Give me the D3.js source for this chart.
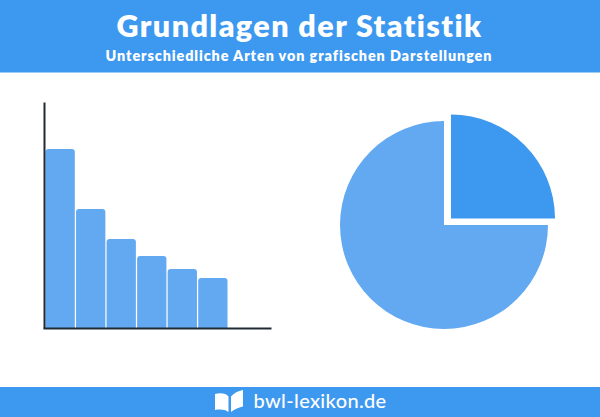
<!DOCTYPE html>
<html><head><meta charset="utf-8">
<script src="https://cdn.jsdelivr.net/npm/d3@7"></script>
<style>html,body{margin:0;padding:0;background:#fff}svg{display:block}</style>
</head><body><svg id="c" width="600" height="417"></svg>
<script>
const titleText = "Grundlagen der Statistik";
const subtitleText = "Unterschiedliche Arten von grafischen Darstellungen";
const footerText = "bwl-lexikon.de";
const categories = ["A","B","C","D","E","F"];
const barValues = [79.2,52.7,39.4,31.9,26.1,22.1];
const pieLabels = ["Anteil","Rest"];
const pieValues = [25,75];

const svg = d3.select("#c");
const blue="#3d98ef", light="#63a9f2", ink="#1f2a35";
svg.append("rect").attr("width",600).attr("height",72.5).attr("fill",blue);
svg.append("rect").attr("y",387).attr("width",600).attr("height",30).attr("fill",blue);
const text=(x,y,s,size,ls,w)=>svg.append("text").attr("x",x).attr("y",y).attr("text-anchor","middle")
  .attr("font-family","Lato, 'Open Sans', sans-serif").attr("font-weight",w).attr("font-size",size)
  .attr("letter-spacing",ls).attr("fill","#fff").text(s);
text(299.5,37,titleText,30.5,1.4,800);
text(299,61,subtitleText,14.4,0.9,800);
text(320,408,footerText,20,0.35,500);

// book icon
const book=svg.append("g").attr("fill","#fff");
book.append("path").attr("d","M215 394 C221 392.5 226 393.5 228.5 396.5 L228.5 412 C225 409.5 220 409 215 410 Z");
book.append("path").attr("d","M231 396.5 C234 393 238 391 243 390 L243 406.5 C238 407.5 234 409.5 231 412 Z");

// bars
const x=d3.scaleBand().domain(categories).range([45.5,227.5]).paddingInner(0.04);
const y=d3.scaleLinear().domain([0,100]).range([328,102]);
const r=3;
svg.append("g").selectAll("path").data(barValues).join("path")
  .attr("fill",light)
  .attr("d",(d,i)=>{
    const p=d3.path(),l=x(categories[i]),w=x.bandwidth(),t=y(d),b=y(0);
    p.moveTo(l,b);p.lineTo(l,t+r);p.quadraticCurveTo(l,t,l+r,t);
    p.lineTo(l+w-r,t);p.quadraticCurveTo(l+w,t,l+w,t+r);p.lineTo(l+w,b);p.closePath();
    return p.toString();
  });
// axes
svg.append("g").attr("transform","translate(0,328)")
  .call(d3.axisBottom(d3.scaleLinear().domain([0,1]).range([43,271])).tickValues([]).tickSize(0))
  .select(".domain").attr("stroke",ink).attr("stroke-width",2);
svg.append("g").attr("transform","translate(44,0)")
  .call(d3.axisLeft(y).tickValues([]).tickSize(0))
  .select(".domain").attr("stroke",ink).attr("stroke-width",2);

// pie
const pie=d3.pie().sort(null)(pieValues);
const arc=d3.arc().innerRadius(0).outerRadius(104);
const centres=[[451,218.5],[444,225]];
const fills=[blue,light];
svg.append("g").selectAll("path").data(pie).join("path")
  .attr("transform",(d,i)=>`translate(${centres[i]})`)
  .attr("d",arc).attr("fill",(d,i)=>fills[i]);
</script></body></html>
